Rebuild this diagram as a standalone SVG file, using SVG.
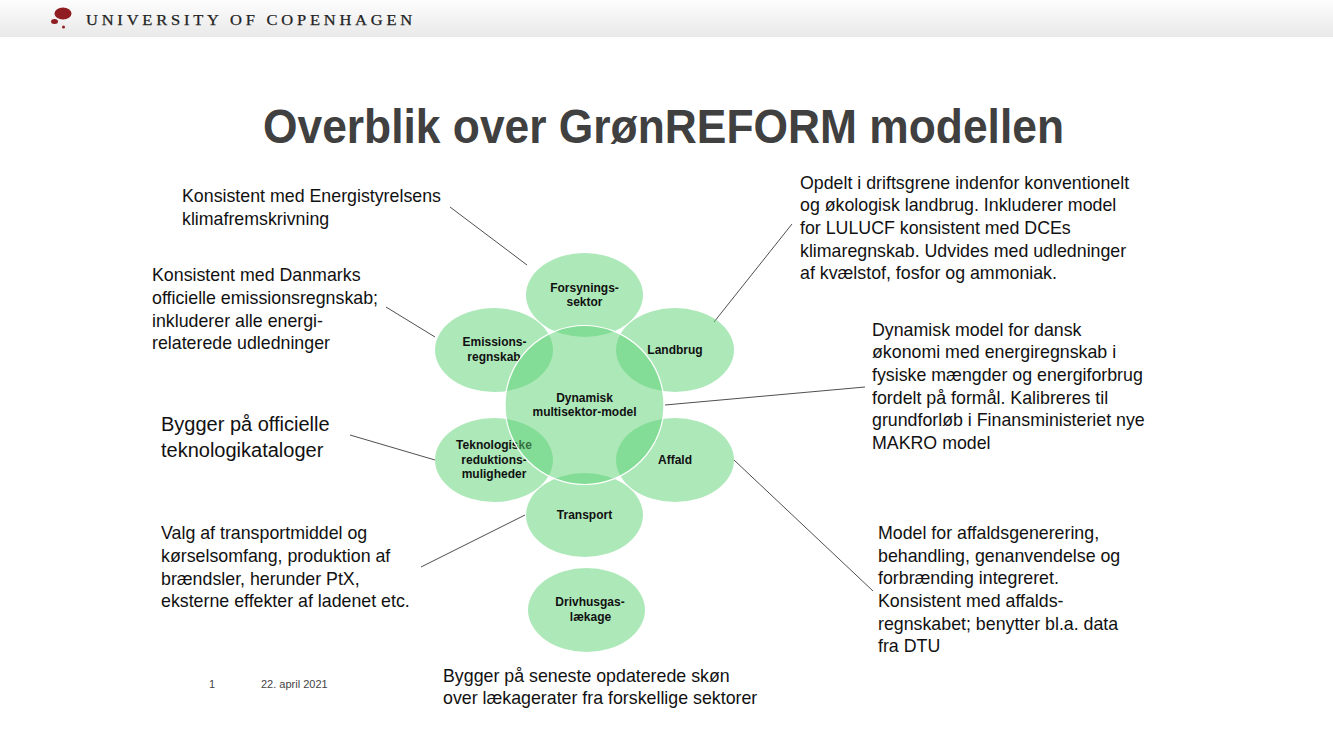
<svg xmlns="http://www.w3.org/2000/svg" width="1333" height="750" viewBox="0 0 1333 750">
<style>
.t{font-family:"Liberation Sans",Arial,sans-serif;font-size:17.8px;fill:#111}
.big{font-size:20px}
.n{font-family:"Liberation Sans",Arial,sans-serif;font-size:12px;font-weight:bold;fill:#111;text-anchor:middle}
.e{fill:#5bd173;fill-opacity:.5}
.c line{stroke:#222;stroke-width:.8}
</style>
<defs><linearGradient id="h" x1="0" y1="0" x2="0" y2="1"><stop offset="0" stop-color="#fdfdfd"/><stop offset="1" stop-color="#e9e9e9"/></linearGradient></defs>
<rect width="1333" height="750" fill="#fff"/>
<g id="header">
<rect width="1333" height="37" fill="url(#h)"/>
<ellipse cx="63" cy="13.500" rx="8.500" ry="6" fill="#8f1d22"/>
<ellipse cx="54.500" cy="21.500" rx="3.500" ry="2.500" fill="#8f1d22"/>
<circle cx="63.500" cy="27" r="1.500" fill="#8f1d22"/>
<text x="86" y="24.500" font-family="Liberation Serif,serif" font-size="14.500" letter-spacing="3.350" fill="#222" stroke="#222" stroke-width=".25" textLength="330" lengthAdjust="spacingAndGlyphs">UNIVERSITY OF COPENHAGEN</text>
</g>
<text id="title" x="263" y="143" font-family="Liberation Sans,Arial,sans-serif" font-weight="bold" font-size="47.500" fill="#404040" textLength="801" lengthAdjust="spacingAndGlyphs">Overblik over GrønREFORM modellen</text>
<g class="c" id="connectors">
<line x1="450" y1="207" x2="527" y2="265"/>
<line x1="386" y1="307" x2="435" y2="337"/>
<line x1="350" y1="435" x2="435" y2="460"/>
<line x1="421" y1="567" x2="525" y2="515"/>
<line x1="792" y1="224" x2="714" y2="322"/>
<line x1="865" y1="387" x2="665" y2="405"/>
<line x1="873" y1="591" x2="734" y2="460"/>
</g>
<g id="node-forsyning"><ellipse class="e" cx="584.500" cy="295" rx="58.500" ry="42"/><text class="n"><tspan x="584.500" y="292">Forsynings-</tspan><tspan x="584.500" y="306">sektor</tspan></text></g>
<g id="node-landbrug"><ellipse class="e" cx="675" cy="350" rx="59" ry="42"/><text class="n" x="675" y="354">Landbrug</text></g>
<g id="node-emission"><ellipse class="e" cx="494" cy="350" rx="59" ry="42"/><text class="n"><tspan x="494.500" y="346">Emissions-</tspan><tspan x="494" y="361">regnskab</tspan></text></g>
<g id="node-teknologi"><ellipse class="e" cx="494" cy="460" rx="59" ry="42"/><text class="n"><tspan x="494" y="449">Teknologiske</tspan><tspan x="494" y="464">reduktions-</tspan><tspan x="494" y="478">muligheder</tspan></text></g>
<g id="node-affald"><ellipse class="e" cx="675" cy="460" rx="59" ry="42"/><text class="n" x="675" y="464">Affald</text></g>
<g id="node-transport"><ellipse class="e" cx="584.500" cy="515" rx="58.500" ry="42"/><text class="n" x="584.500" y="519">Transport</text></g>
<g id="node-center"><circle class="e" cx="584.500" cy="405" r="79.500" stroke="#fff" stroke-width="1.200"/><text class="n"><tspan x="584.500" y="402">Dynamisk</tspan><tspan x="584.500" y="416">multisektor-model</tspan></text></g>
<g id="node-drivhus"><ellipse class="e" cx="586.500" cy="610" rx="58.500" ry="42"/><text class="n"><tspan x="590" y="606">Drivhusgas-</tspan><tspan x="590.500" y="621">lækage</tspan></text></g>
<g id="labels">
<text class="t"><tspan x="182" y="202">Konsistent med Energistyrelsens</tspan><tspan x="182" y="225">klimafremskrivning</tspan></text>
<text class="t"><tspan x="152" y="281">Konsistent med Danmarks</tspan><tspan x="152" y="304">officielle emissionsregnskab;</tspan><tspan x="152" y="327">inkluderer alle energi-</tspan><tspan x="152" y="349">relaterede udledninger</tspan></text>
<text class="t big"><tspan x="161" y="431">Bygger på officielle</tspan><tspan x="161" y="457">teknologikataloger</tspan></text>
<text class="t"><tspan x="161" y="539">Valg af transportmiddel og</tspan><tspan x="161" y="562">kørselsomfang, produktion af</tspan><tspan x="161" y="585">brændsler, herunder PtX,</tspan><tspan x="161" y="607">eksterne effekter af ladenet etc.</tspan></text>
<text class="t"><tspan x="800" y="189">Opdelt i driftsgrene indenfor konventionelt</tspan><tspan x="800" y="211">og økologisk landbrug. Inkluderer model</tspan><tspan x="800" y="234">for LULUCF konsistent med DCEs</tspan><tspan x="800" y="257">klimaregnskab. Udvides med udledninger</tspan><tspan x="800" y="279">af kvælstof, fosfor og ammoniak.</tspan></text>
<text class="t"><tspan x="872" y="336">Dynamisk model for dansk</tspan><tspan x="872" y="358">økonomi med energiregnskab i</tspan><tspan x="872" y="381">fysiske mængder og energiforbrug</tspan><tspan x="872" y="404">fordelt på formål. Kalibreres til</tspan><tspan x="872" y="426">grundforløb i Finansministeriet nye</tspan><tspan x="872" y="449">MAKRO model</tspan></text>
<text class="t"><tspan x="878" y="539">Model for affaldsgenerering,</tspan><tspan x="878" y="562">behandling, genanvendelse og</tspan><tspan x="878" y="584">forbrænding integreret.</tspan><tspan x="878" y="607">Konsistent med affalds-</tspan><tspan x="878" y="630">regnskabet; benytter bl.a. data</tspan><tspan x="878" y="652">fra DTU</tspan></text>
<text class="t"><tspan x="443" y="682">Bygger på seneste opdaterede skøn</tspan><tspan x="443" y="704">over lækagerater fra forskellige sektorer</tspan></text>
</g>
<g id="footer" font-family="Liberation Sans,Arial,sans-serif" font-size="11" fill="#444">
<text x="209" y="688">1</text><text x="261" y="688">22. april 2021</text>
</g>
</svg>
